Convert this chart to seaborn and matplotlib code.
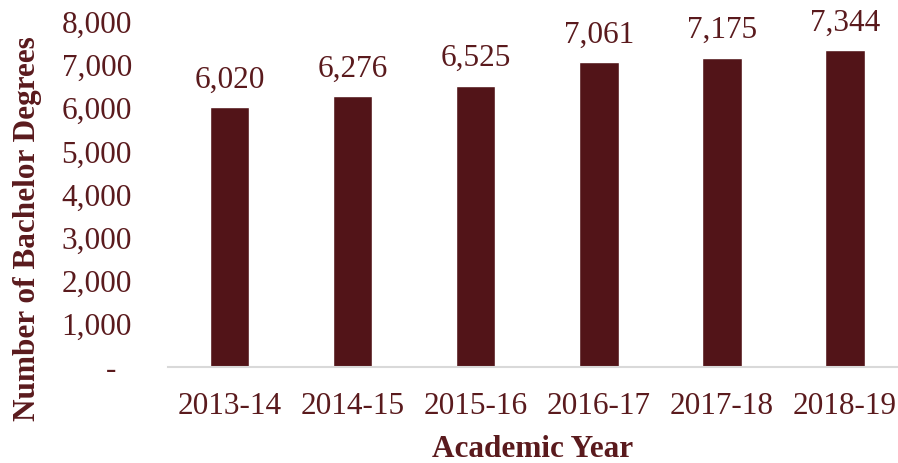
import matplotlib
matplotlib.use("Agg")
import matplotlib.pyplot as plt
import pandas as pd
import seaborn as sns
from matplotlib.ticker import FuncFormatter

# Data
years = ['2013-14', '2014-15', '2015-16', '2016-17', '2017-18', '2018-19']
degrees = [6020, 6276, 6525, 7061, 7175, 7344]

df = pd.DataFrame({'year': years, 'degrees': degrees})

bar_color = '#521418'
text_color = '#5a1a1d'

sns.set_style('white')
plt.rcParams['font.family'] = ['Liberation Serif', 'DejaVu Serif']

fig = plt.figure(figsize=(8.98, 4.63), dpi=100)
ax = fig.add_axes([168 / 898, 1 - 367 / 463, 730 / 898, (367 - 22) / 463])

sns.barplot(x='year', y='degrees', data=df, color=bar_color, width=0.32,
            saturation=1, ax=ax)

# value labels on top of bars
for i, v in enumerate(degrees):
    ax.annotate(f'{v:,}', (i, v), xytext=(0, 9), textcoords='offset points',
                ha='center', va='bottom', fontsize=22.5, color=text_color)

ax.set_ylim(0, 8000)
ax.set_xlim(-0.5, 5.43)
ax.set_yticks(range(0, 8001, 1000))
ax.yaxis.set_major_formatter(FuncFormatter(lambda v, p: '-  ' if v == 0 else f'{int(v):,}'))

ax.tick_params(axis='both', length=0, labelsize=22.5, colors=text_color)
ax.tick_params(axis='y', pad=26)
ax.tick_params(axis='x', pad=18)

for s in ['top', 'right', 'left']:
    ax.spines[s].set_visible(False)
ax.spines['bottom'].set_color('#d9d9d9')
ax.spines['bottom'].set_linewidth(1.5)

ax.set_xlabel('Academic Year', fontsize=22.5, fontweight='bold', color=text_color, labelpad=10)
ax.set_ylabel('Number of Bachelor Degrees', fontsize=22.5, fontweight='bold', color=text_color)
ax.yaxis.set_label_coords(-0.1726, 0.40)

fig.savefig('out.png', dpi=100)
